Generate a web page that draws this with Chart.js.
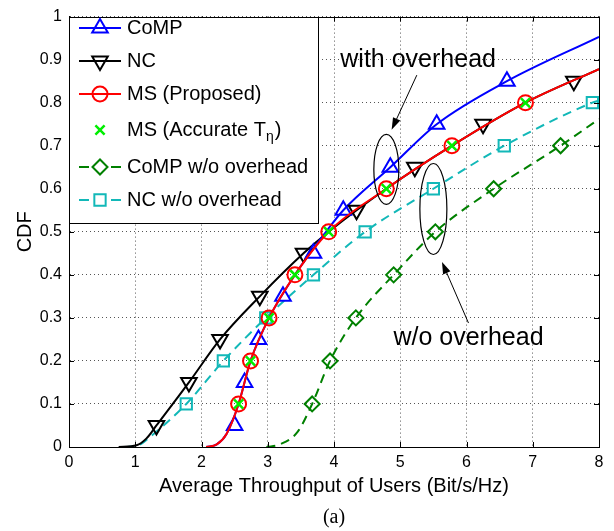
<!DOCTYPE html>
<html>
<head>
<meta charset="utf-8">
<script src="https://cdn.jsdelivr.net/npm/chart.js@4"></script>
<style>
  html, body { margin: 0; padding: 0; background: #fff; }
</style>
</head>
<body>
<canvas id="cdfChart" width="614" height="531"></canvas>
<script>
// tick values
const xTicks = [0, 1, 2, 3, 4, 5, 6, 7, 8];
const yTicks = [0, 0.1, 0.2, 0.3, 0.4, 0.5, 0.6, 0.7, 0.8, 0.9, 1];

// CoMP (with overhead): curve runs under the MS curve below 0.45
const compX = [2.07, 2.23, 2.38, 2.56, 2.74, 3.02, 3.41, 3.88, 4.14, 4.85, 5.55, 6.61, 8.00];
const compY = [0, 0.006, 0.031, 0.1, 0.2, 0.3, 0.4, 0.5, 0.55, 0.65, 0.75, 0.85, 0.953];
const compMarkX = [2.50, 2.65, 2.86, 3.23, 3.69, 4.14, 4.85, 5.55, 6.61];
const compMarkY = [0.05, 0.15, 0.25, 0.35, 0.45, 0.55, 0.65, 0.75, 0.85];

// NC: curve joins the MS curve above 0.5
const ncX = [0.75, 1.02, 1.17, 1.32, 1.81, 2.28, 2.88, 3.54, 3.92, 4.79, 5.78, 6.89, 8.00];
const ncY = [0, 0.004, 0.02, 0.05, 0.15, 0.25, 0.35, 0.45, 0.5, 0.6, 0.7, 0.8, 0.878];
const ncMarkX = [1.32, 1.81, 2.28, 2.88, 3.54, 4.34, 5.22, 6.25, 7.62];
const ncMarkY = [0.05, 0.15, 0.25, 0.35, 0.45, 0.55, 0.65, 0.75, 0.85];

// MS (Proposed)
const msX = [2.07, 2.23, 2.38, 2.56, 2.74, 3.02, 3.41, 3.92, 4.79, 5.78, 6.89, 8.00];
const msY = [0, 0.006, 0.031, 0.1, 0.2, 0.3, 0.4, 0.5, 0.6, 0.7, 0.8, 0.878];
const msMarkX = [2.56, 2.74, 3.02, 3.41, 3.92, 4.79, 5.78, 6.89];
const msMarkY = [0.1, 0.2, 0.3, 0.4, 0.5, 0.6, 0.7, 0.8];

// MS (Accurate T_eta): markers only
const msAccX = [2.56, 2.74, 3.02, 3.41, 3.92, 4.79, 5.78, 6.89];
const msAccY = [0.1, 0.2, 0.3, 0.4, 0.5, 0.6, 0.7, 0.8];

// CoMP w/o overhead
const compWoX = [2.98, 3.18, 3.45, 3.67, 3.94, 4.33, 4.90, 5.53, 6.41, 7.42, 8.00];
const compWoY = [0, 0.006, 0.035, 0.1, 0.2, 0.3, 0.4, 0.5, 0.6, 0.7, 0.762];
const compWoMarkX = [3.67, 3.94, 4.33, 4.90, 5.53, 6.41, 7.42];
const compWoMarkY = [0.1, 0.2, 0.3, 0.4, 0.5, 0.6, 0.7];

// NC w/o overhead
const ncWoX = [0.85, 1.05, 1.22, 1.77, 2.33, 2.97, 3.69, 4.47, 5.50, 6.57, 7.90, 8.00];
const ncWoY = [0, 0.004, 0.023, 0.1, 0.2, 0.3, 0.4, 0.5, 0.6, 0.7, 0.8, 0.805];
const ncWoMarkX = [1.77, 2.33, 2.97, 3.69, 4.47, 5.50, 6.57, 7.90];
const ncWoMarkY = [0.1, 0.2, 0.3, 0.4, 0.5, 0.6, 0.7, 0.8];

const FONT = "'Liberation Sans', Arial, Helvetica, sans-serif";

function pts(xs, ys) {
  return xs.map((v, i) => ({ x: v, y: ys[i] }));
}

// legend entries, in the order of the reference legend
const legendItems = [
  { label: 'CoMP', color: '#0000ff', dash: [], style: 'triangle', radius: 9, rot: 0, width: 2, line: true },
  { label: 'NC', color: '#000000', dash: [], style: 'triangle', radius: 9, rot: 180, width: 2, line: true },
  { label: 'MS (Proposed)', color: '#ff0000', dash: [], style: 'circle', radius: 7.5, rot: 0, width: 2, line: true },
  { label: 'MS (Accurate T\u03b7)', color: '#00ee00', dash: [], style: 'crossRot', radius: 6.5, rot: 0, width: 2.5, line: false },
  { label: 'CoMP w/o overhead', color: '#008000', dash: [9, 6], style: 'rectRot', radius: 7.5, rot: 0, width: 2, line: true },
  { label: 'NC w/o overhead', color: '#12b8b8', dash: [9, 6], style: 'rect', radius: 8, rot: 0, width: 2, line: true }
];

function curve(it, xs, ys, order) {
  return {
    label: it.label,
    data: pts(xs, ys),
    borderColor: it.color,
    borderWidth: 2,
    borderDash: it.dash,
    cubicInterpolationMode: 'monotone',
    pointRadius: 0,
    order: order
  };
}

function marks(it, xs, ys, order) {
  return {
    label: it.label + ' markers',
    data: pts(xs, ys),
    showLine: false,
    pointStyle: it.style,
    pointRotation: it.rot,
    pointRadius: it.radius,
    pointBorderWidth: it.width,
    pointBorderColor: it.color,
    pointBackgroundColor: 'rgba(0,0,0,0)',
    order: order
  };
}

const [iComp, iNc, iMs, iAcc, iCompWo, iNcWo] = legendItems;

// lower order is drawn on top
const datasets = [
  marks(iAcc, msAccX, msAccY, 0),
  marks(iMs, msMarkX, msMarkY, 1),
  curve(iMs, msX, msY, 2),
  marks(iComp, compMarkX, compMarkY, 3),
  marks(iNc, ncMarkX, ncMarkY, 4),
  curve(iComp, compX, compY, 5),
  curve(iNc, ncX, ncY, 6),
  marks(iNcWo, ncWoMarkX, ncWoMarkY, 7),
  curve(iNcWo, ncWoX, ncWoY, 8),
  marks(iCompWo, compWoMarkX, compWoMarkY, 9),
  curve(iCompWo, compWoX, compWoY, 10)
];

function marker(ctx, it, x, y) {
  ctx.save();
  ctx.strokeStyle = it.color;
  ctx.fillStyle = 'rgba(0,0,0,0)';
  ctx.lineWidth = it.width;
  ctx.setLineDash([]);
  Chart.helpers.drawPoint(ctx, { pointStyle: it.style, rotation: it.rot, radius: it.radius, borderWidth: it.width }, x, y);
  ctx.restore();
}

function arrow(ctx, x1, y1, x2, y2) {
  const ang = Math.atan2(y2 - y1, x2 - x1);
  ctx.beginPath();
  ctx.moveTo(x1, y1);
  ctx.lineTo(x2 - Math.cos(ang) * 8, y2 - Math.sin(ang) * 8);
  ctx.stroke();
  ctx.beginPath();
  ctx.moveTo(x2, y2);
  ctx.lineTo(x2 - Math.cos(ang) * 12 + Math.sin(ang) * 4, y2 - Math.sin(ang) * 12 - Math.cos(ang) * 4);
  ctx.lineTo(x2 - Math.cos(ang) * 12 - Math.sin(ang) * 4, y2 - Math.sin(ang) * 12 + Math.cos(ang) * 4);
  ctx.closePath();
  ctx.fill();
}

const legendRows = [28, 61, 94, 130, 167, 200];

const extras = {
  id: 'extras',
  afterDraw(chart) {
    const { ctx, chartArea: a, scales: { x, y } } = chart;
    ctx.save();
    ctx.strokeStyle = '#000';
    ctx.fillStyle = '#000';
    ctx.lineWidth = 1;

    // inward ticks on all four sides + box
    ctx.beginPath();
    xTicks.forEach(v => {
      const px = Math.round(x.getPixelForValue(v)) + 0.5;
      ctx.moveTo(px, a.bottom); ctx.lineTo(px, a.bottom - 5);
      ctx.moveTo(px, a.top); ctx.lineTo(px, a.top + 5);
    });
    yTicks.forEach(v => {
      const py = Math.round(y.getPixelForValue(v)) + 0.5;
      ctx.moveTo(a.left, py); ctx.lineTo(a.left + 5, py);
      ctx.moveTo(a.right, py); ctx.lineTo(a.right - 5, py);
    });
    ctx.stroke();
    ctx.strokeRect(Math.round(a.left) + 0.5, Math.round(a.top) + 0.5, Math.round(a.width), Math.round(a.height));

    // legend box
    const lx = Math.round(a.left) + 0.5, ly = Math.round(a.top) + 0.5;
    ctx.fillStyle = '#fff';
    ctx.fillRect(lx, ly, 249, 206);
    ctx.strokeRect(lx, ly, 249, 206);
    ctx.font = '20px ' + FONT;
    ctx.textBaseline = 'middle';
    ctx.textAlign = 'left';
    legendItems.forEach((it, i) => {
      const ry = legendRows[i];
      ctx.strokeStyle = it.color;
      ctx.lineWidth = 2;
      if (it.line) {
        ctx.beginPath();
        if (it.dash.length) {
          ctx.moveTo(79, ry); ctx.lineTo(89, ry);
          ctx.moveTo(111, ry); ctx.lineTo(121, ry);
        } else {
          ctx.moveTo(79, ry); ctx.lineTo(121, ry);
        }
        ctx.stroke();
      }
      marker(ctx, it, 100, ry);
      ctx.fillStyle = '#000';
      if (i === 3) {
        const t1 = 'MS (Accurate T';
        ctx.fillText(t1, 127, ry);
        let w = ctx.measureText(t1).width;
        ctx.font = '14px ' + FONT;
        ctx.fillText('\u03b7', 127 + w, ry + 7);
        w += ctx.measureText('\u03b7').width;
        ctx.font = '20px ' + FONT;
        ctx.fillText(')', 127 + w + 1, ry);
      } else {
        ctx.fillText(it.label, 127, ry);
      }
    });

    // annotations
    ctx.strokeStyle = '#000';
    ctx.fillStyle = '#000';
    ctx.lineWidth = 1.2;
    ctx.beginPath();
    ctx.ellipse(x.getPixelForValue(4.79), y.getPixelForValue(0.645), 12.5, 35, 0, 0, Math.PI * 2);
    ctx.stroke();
    ctx.beginPath();
    ctx.ellipse(x.getPixelForValue(5.50), y.getPixelForValue(0.553), 13.5, 45.5, 0, 0, Math.PI * 2);
    ctx.stroke();
    ctx.lineWidth = 1;
    arrow(ctx, x.getPixelForValue(5.25), y.getPixelForValue(0.864), x.getPixelForValue(4.87), y.getPixelForValue(0.737));
    arrow(ctx, x.getPixelForValue(6.03), y.getPixelForValue(0.288), x.getPixelForValue(5.63), y.getPixelForValue(0.43));
    ctx.font = '25px ' + FONT;
    ctx.textAlign = 'center';
    ctx.fillText('with overhead', x.getPixelForValue(5.27), y.getPixelForValue(0.898));
    ctx.fillText('w/o overhead', x.getPixelForValue(6.03), y.getPixelForValue(0.253));

    // sub-figure caption
    ctx.font = "20px 'Liberation Serif', 'Times New Roman', serif";
    ctx.fillText('(a)', (a.left + a.right) / 2, 518);
    ctx.restore();
  }
};

new Chart(document.getElementById('cdfChart'), {
  type: 'line',
  data: { datasets: datasets },
  plugins: [extras],
  options: {
    responsive: false,
    animation: false,
    layout: { padding: { left: 0, right: 15, top: 12, bottom: 0 } },
    plugins: { legend: { display: false }, tooltip: { enabled: false } },
    scales: {
      x: {
        type: 'linear', min: 0, max: 8,
        afterFit: s => { s.height = 84; },
        afterBuildTicks: s => { s.ticks = xTicks.map(v => ({ value: v })); },
        ticks: { color: '#000', font: { family: FONT, size: 16 }, padding: 6, maxRotation: 0 },
        grid: { color: '#555', lineWidth: 1, drawTicks: false },
        border: { display: true, color: '#000', dash: [1, 3] },
        title: { display: true, text: 'Average Throughput of Users (Bit/s/Hz)', color: '#000', font: { family: FONT, size: 20 }, padding: { top: 0, bottom: 33 } }
      },
      y: {
        type: 'linear', min: 0, max: 1,
        afterFit: s => { s.width = 69; },
        afterBuildTicks: s => { s.ticks = yTicks.map(v => ({ value: v })); },
        ticks: { color: '#000', font: { family: FONT, size: 16 }, padding: 7, callback: v => String(+v.toFixed(1)) },
        grid: { color: '#555', lineWidth: 1, drawTicks: false },
        border: { display: true, color: '#000', dash: [1, 3] },
        title: { display: true, text: 'CDF', color: '#000', font: { family: FONT, size: 20 }, padding: { top: 13, bottom: 0 } }
      }
    }
  }
});
</script>
</body>
</html>
